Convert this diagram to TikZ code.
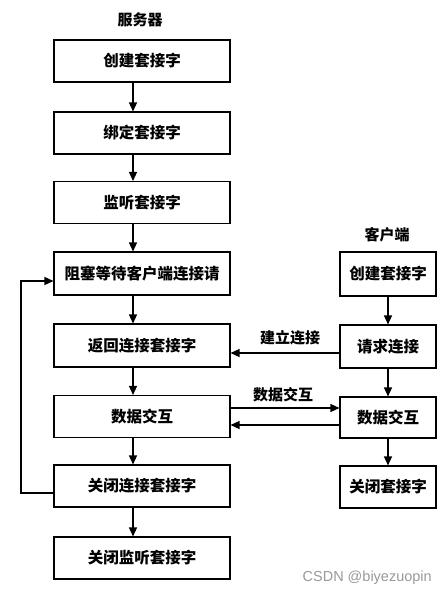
\documentclass[tikz,border=0pt]{standalone}
\usepackage{fontspec}
\newfontfamily\cjk{Noto Sans CJK SC}
\newfontfamily\wm{Liberation Sans}
\usetikzlibrary{arrows.meta}
\begin{document}
\begin{tikzpicture}[x=1pt,y=-1pt,
  box/.style={draw,line width=1.1pt,minimum height=42pt,inner sep=0pt,font=\cjk\bfseries\fontsize{15.5}{16}\selectfont},
  sbox/.style={box,minimum width=176pt},
  cbox/.style={box,minimum width=96pt},
  lbl/.style={font=\cjk\bfseries\fontsize{15}{16}\selectfont,inner sep=0pt},
  arr/.style={line width=1.3pt,-{Triangle[length=9pt,width=8pt]}},
  ln/.style={line width=1.3pt}]
\useasboundingbox (0,0) rectangle (447,596);
% server
\node[lbl] (st) at (140,20) {服务器};
\node[sbox] (s1) at (142,61) {创建套接字};
\node[sbox] (s2) at (142,133) {绑定套接字};
\node[sbox] (s3) at (142,202.5) {监听套接字};
\node[sbox,minimum height=43pt] (s4) at (142,273.5) {阻塞等待客户端连接请};
\node[sbox,minimum height=43pt] (s5) at (142,345.5) {返回连接套接字};
\node[sbox] (s6) at (142,416.5) {数据交互};
\node[sbox] (s7) at (142,486) {关闭连接套接字};
\node[sbox] (s8) at (142,558) {关闭监听套接字};
% client
\node[lbl] (ct) at (387,235) {客户端};
\node[cbox,minimum height=44pt] (c1) at (388,274) {创建套接字};
\node[cbox,minimum height=43pt] (c2) at (388,346.5) {请求连接};
\node[cbox,minimum height=41pt] (c3) at (388,417.5) {数据交互};
\node[cbox] (c4) at (388,487) {关闭套接字};
% server arrows
\foreach \a/\b in {s1/s2,s2/s3,s3/s4,s4/s5,s5/s6,s6/s7,s7/s8}
  \draw[arr] ([xshift=-9pt]\a.south) -- ([xshift=-9pt]\b.north);
% client arrows
\foreach \a/\b in {c1/c2,c2/c3,c3/c4}
  \draw[arr] (\a.south) -- (\b.north);
% connection
\draw[arr] (c2.west |- 0,353) -- (s5.east |- 0,353) node[lbl,midway,above=7pt,xshift=5pt] (l1) {建立连接};
\draw[arr] (s6.east |- 0,408) -- (c3.west |- 0,408) node[lbl,midway,above=5pt,xshift=-2pt] (l2) {数据交互};
\draw[arr] (c3.west |- 0,425) -- (s6.east |- 0,425);
% loop
\coordinate (k1) at (21,493);
\coordinate (k2) at (21,281);
\draw[arr] (s7.west |- k1) -- (k1) -- (k2) -- (s4.west |- k2);
% watermark
\node[font=\wm\fontsize{14.5}{15}\selectfont,text=black!40,anchor=east,inner sep=0pt] (wm) at (432,578) {CSDN @biyezuopin};
\end{tikzpicture}
\end{document}
